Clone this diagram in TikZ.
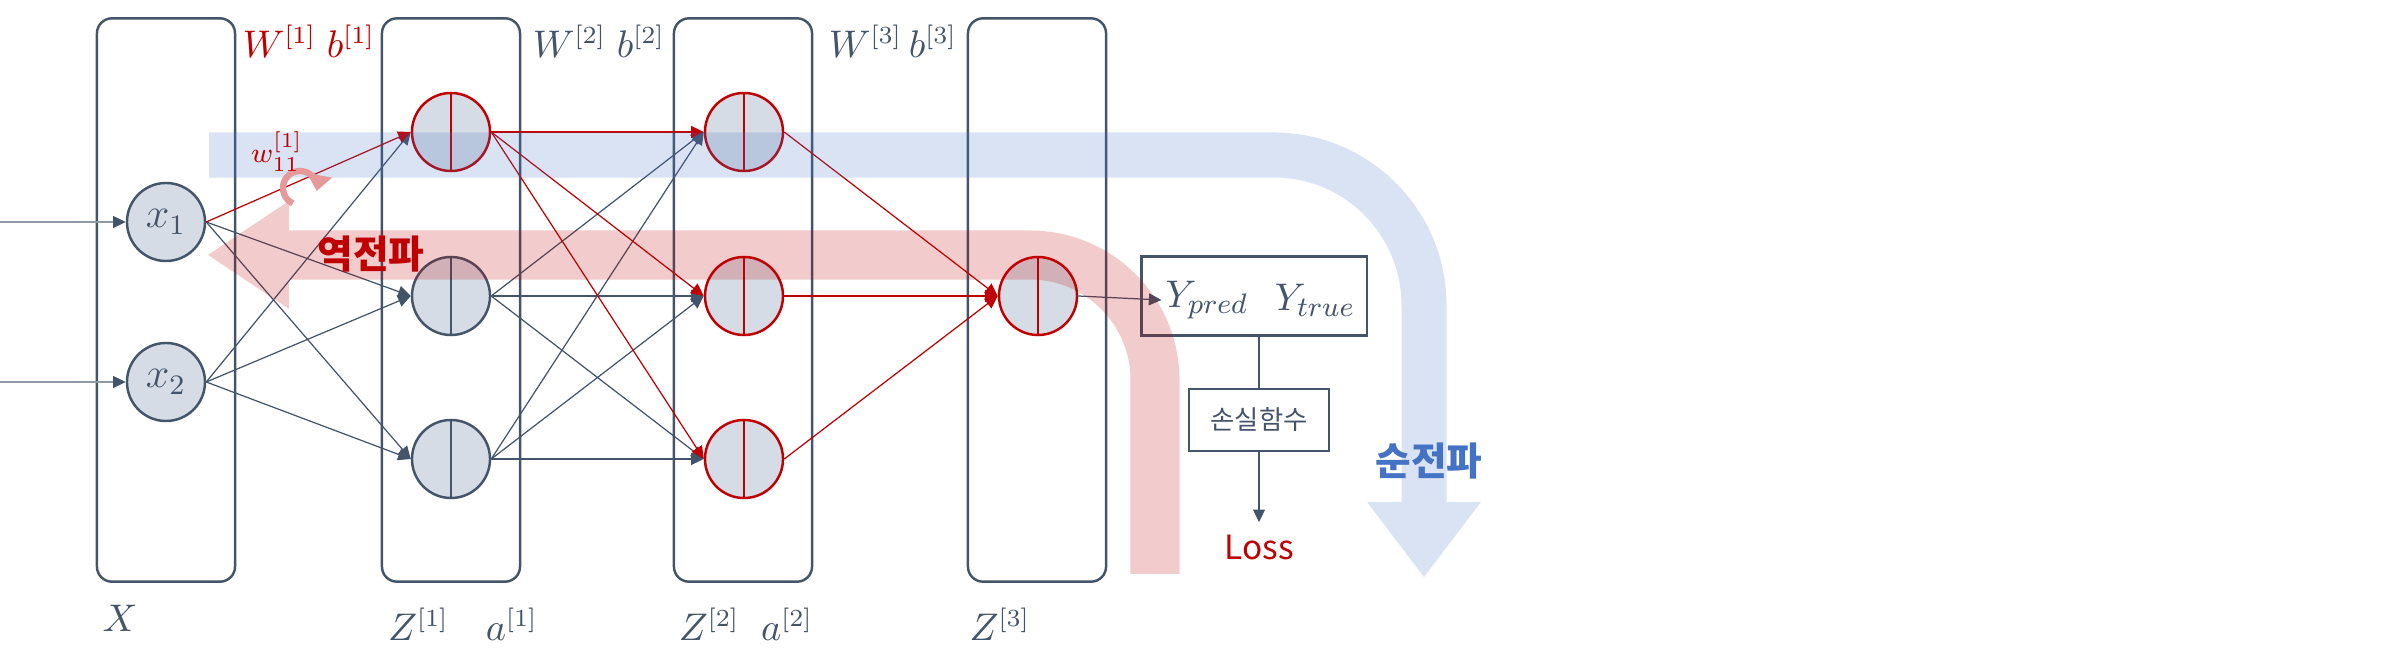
\documentclass[tikz,border=0pt]{standalone}
\usepackage{amsmath}
\usepackage{fontspec}
\newfontfamily\kr{Noto Sans CJK KR}
\usetikzlibrary{arrows.meta,positioning}

\definecolor{slate}{HTML}{44546A}
\definecolor{bpred}{HTML}{C00000}
\definecolor{fwdblue}{HTML}{4472C4}
\definecolor{nodefill}{HTML}{D6DCE5}

\tikzset{
  neuron/.style={circle, draw=slate, fill=nodefill, line width=0.7pt, minimum size=0.78cm, inner sep=0pt, text=slate, font=\fontsize{12}{14}\selectfont},
  split/.style={neuron, draw=#1, path picture={\draw[#1, line width=0.4pt] (path picture bounding box.north) -- (path picture bounding box.south);}},
  split/.default=slate,
  layer/.style={draw=slate, rounded corners=0.15cm, line width=0.7pt, minimum width=1.38cm, minimum height=5.63cm},
  outbox/.style={draw=slate, line width=0.6pt, inner sep=0pt},
  lbl/.style={text=slate, font=\fontsize{10.5}{12}\selectfont}
}

\begin{document}
\begin{tikzpicture}[x=0.01cm, y=-0.01cm, >={Triangle[length=3.6pt,width=3.4pt]}, line width=0.35pt]
  \useasboundingbox (0,0) rectangle (2402,652);
  % layer boxes
  \node[layer] (bx) at (166,300) {};
  \node[layer] (bh1) at (451,300) {};
  \node[layer] (bh2) at (743,300) {};
  \node[layer] (bout) at (1037,300) {};

  % neurons
  \node[neuron] (x1) at (166,222) {$x_1$};
  \node[neuron] (x2) at (166,382) {$x_2$};
  \node[split=bpred] (h1) at (451,132) {};
  \node[split] (h2) at (451,296) {};
  \node[split] (h3) at (451,459) {};
  \node[split=bpred] (g1) at (744,132) {};
  \node[split=bpred] (g2) at (744,296) {};
  \node[split=bpred] (g3) at (744,459) {};
  \node[split=bpred] (out) at (1038,296) {};

  % output and loss
  \node[outbox, minimum width=2.25cm, minimum height=0.79cm] (ybox) at (1254,296) {};
  \node[lbl, inner sep=1pt, font=\fontsize{11}{13}\selectfont] (ypred) at (1207,300) {$Y_{pred}$};
  \node[lbl, inner sep=1pt, font=\fontsize{11}{13}\selectfont] (ytrue) at (1315,300) {$Y_{true}$};
  \node[outbox, minimum width=1.4cm, minimum height=0.62cm, text=slate, font=\kr\fontsize{7.5}{9}\selectfont] (lossfn) at (1259,420) {손실함수};
  \node[text=bpred, font=\kr\fontsize{9.5}{11}\selectfont] (loss) at (1259,547) {Loss};

  \coordinate (in1) at (0,222);
  \coordinate (in2) at (0,382);

  % connections
  \path[-{Triangle[length=3.6pt,width=3.4pt,color=slate]}, slate!60]
    (in1) edge (x1.west)
    (in2) edge (x2.west);
  \path[->, slate]
    (x1.east) edge (h2.west)
          edge (h3.west)
    (x2.east) edge (h1.west)
          edge (h2.west)
          edge (h3.west)
    (h2.east) edge (g1.west)
          edge (g2.west)
          edge (g3.west)
    (h3.east) edge (g1.west)
          edge (g2.west)
          edge (g3.west)
    (out.east) edge (ypred.west)
    (lossfn.south) edge (loss.north);
  \path[->, bpred]
    (x1.east) edge (h1.west)
    (h1.east) edge (g1.west)
          edge (g2.west)
          edge (g3.west)
    (g1.east) edge (out.west)
    (g2.east) edge (out.west)
    (g3.east) edge (out.west);
  \draw[slate] (ybox.south -| lossfn.north) -- (lossfn.north);

  % forward / backward bands
  \begin{scope}[transparency group, opacity=0.2]
    \draw[fwdblue, line width=0.45cm, rounded corners=1.5cm] (209,155) -- (1424,155) -- (1424,503);
    \fill[fwdblue] (1367,502) -- (1481,502) -- (1424,577) -- cycle;
  \end{scope}
  \begin{scope}[transparency group, opacity=0.2]
    \draw[bpred, line width=0.49cm, rounded corners=1.25cm] (288,255) -- (1155,255) -- (1155,574);
    \fill[bpred] (289,201) -- (208,255) -- (289,309) -- cycle;
  \end{scope}
  \coordinate (rot) at (300,188);
  \draw[bpred!40, line width=1.8pt, -{Triangle[length=4.5pt,width=7pt]}] (rot) ++(245:0.17cm) arc[start angle=245, end angle=-10, radius=0.17cm];

  % labels
  \node[text=bpred, font=\kr\bfseries\fontsize{11}{13}\selectfont] (bwd) at (371,254) {역전파};
  \node[text=fwdblue, font=\kr\bfseries\fontsize{11}{13}\selectfont] (fwd) at (1429,461) {순전파};
  \node[text=bpred, font=\fontsize{8}{10}\selectfont] (w11) at (277,152) {$w_{11}^{[1]}$};
  \node[lbl, text=bpred] (wb1) at (309,41) {$W^{[1]}\;b^{[1]}$};
  \node[lbl] (wb2) at (599,41) {$W^{[2]}\;b^{[2]}$};
  \node[lbl] (wb3) at (893,41) {$W^{[3]}\,b^{[3]}$};
  \node[lbl] (xl) at (120,618) {$X$};
  \node[lbl] (za1) at (463,624) {$Z^{[1]}\quad a^{[1]}$};
  \node[lbl] (za2) at (746,624) {$Z^{[2]}\;\;a^{[2]}$};
  \node[lbl] (z3) at (1000,624) {$Z^{[3]}$};
\end{tikzpicture}
\end{document}
